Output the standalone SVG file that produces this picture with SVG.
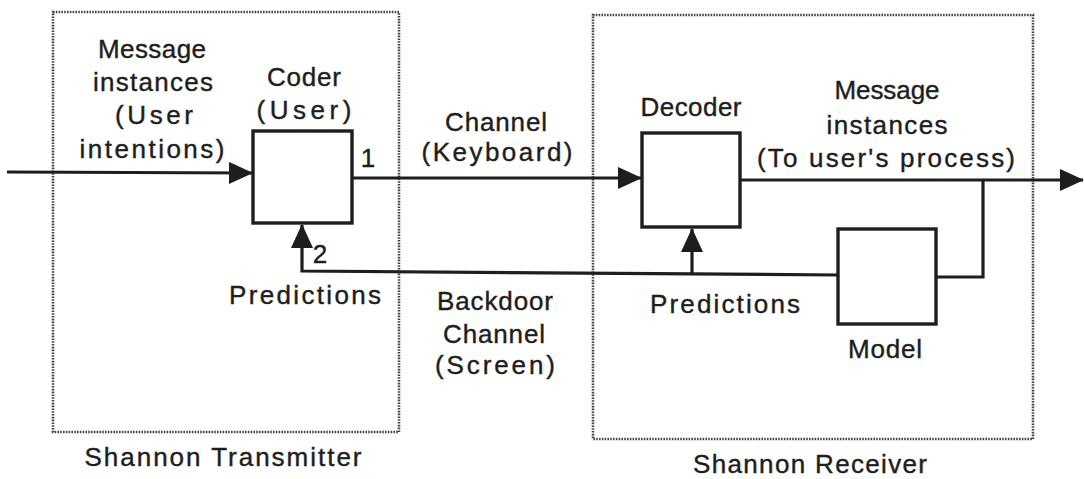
<svg xmlns="http://www.w3.org/2000/svg" width="1084" height="479" viewBox="0 0 1084 479">
<style>
.region{fill:none;stroke:#444;stroke-width:2.6;stroke-dasharray:1.6 1.2}
.blk{fill:#fff;stroke:#1e1e1e;stroke-width:3.4}
.wire{fill:none;stroke:#1e1e1e;stroke-width:3.2;stroke-linejoin:miter}
text{font-family:"Liberation Sans",Arial,sans-serif;font-size:26px;fill:#1e1e1e;stroke:#1e1e1e;stroke-width:0.4;text-anchor:middle}
</style>
<defs>
<marker id="ah" markerUnits="userSpaceOnUse" markerWidth="24" markerHeight="22" refX="23" refY="11" orient="auto">
<path d="M0,0 L24,11 L0,22 z" fill="#1e1e1e"/>
</marker>
</defs>
<rect width="1084" height="479" fill="#fff"/>
<g id="transmitter">
<rect class="region" x="53" y="12" width="346" height="420"/>
<text x="223" y="466" textLength="277" lengthAdjust="spacing">Shannon Transmitter</text>
</g>
<g id="receiver">
<rect class="region" x="593" y="15" width="440" height="424"/>
<text x="810" y="473" textLength="234" lengthAdjust="spacing">Shannon Receiver</text>
</g>
<g id="connectors">
<path class="wire" d="M7,172 L252,173" marker-end="url(#ah)"/>
<path class="wire" d="M352,178 L641,178" marker-end="url(#ah)"/>
<path class="wire" d="M740,180 L1083,180" marker-end="url(#ah)"/>
<path class="wire" d="M983,180 L983,277 L936,277"/>
<path class="wire" d="M838,275 L302,271 L302,225" marker-end="url(#ah)"/>
<path class="wire" d="M692,274 L692,229" marker-end="url(#ah)"/>
</g>
<g id="coder">
<rect class="blk" x="253" y="131" width="99" height="92"/>
<text x="304" y="86" textLength="74" lengthAdjust="spacing">Coder</text>
<text x="304" y="119" textLength="95" lengthAdjust="spacing">(User)</text>
<text x="368" y="167">1</text>
<text x="320" y="263">2</text>
</g>
<g id="decoder">
<rect class="blk" x="642" y="133" width="98" height="94"/>
<text x="691" y="116" textLength="101" lengthAdjust="spacing">Decoder</text>
</g>
<g id="model">
<rect class="blk" x="838" y="229" width="98" height="95"/>
<text x="885" y="358" textLength="74" lengthAdjust="spacing">Model</text>
</g>
<g id="labels">
<text x="152" y="58" textLength="108" lengthAdjust="spacing">Message</text>
<text x="153" y="91" textLength="120" lengthAdjust="spacing">instances</text>
<text x="154" y="124" textLength="78" lengthAdjust="spacing">(User</text>
<text x="152" y="158" textLength="145" lengthAdjust="spacing">intentions)</text>
<text x="496" y="131" textLength="102" lengthAdjust="spacing">Channel</text>
<text x="497" y="161" textLength="151" lengthAdjust="spacing">(Keyboard)</text>
<text x="887" y="99" textLength="105" lengthAdjust="spacing">Message</text>
<text x="887" y="134" textLength="121" lengthAdjust="spacing">instances</text>
<text x="886" y="167" textLength="258" lengthAdjust="spacing">(To user's process)</text>
<text x="305" y="304" textLength="152" lengthAdjust="spacing">Predictions</text>
<text x="495" y="310" textLength="116" lengthAdjust="spacing">Backdoor</text>
<text x="494" y="343" textLength="102" lengthAdjust="spacing">Channel</text>
<text x="495" y="374" textLength="120" lengthAdjust="spacing">(Screen)</text>
<text x="725" y="313" textLength="150" lengthAdjust="spacing">Predictions</text>
</g>
</svg>
